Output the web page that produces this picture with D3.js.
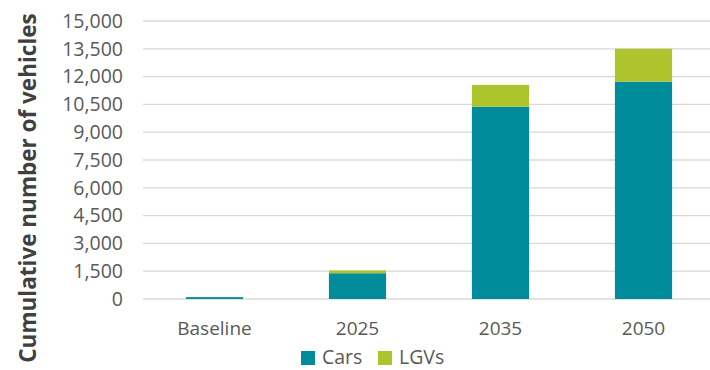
<!DOCTYPE html>
<html>
<head>
<meta charset="utf-8">
<script src="https://cdn.jsdelivr.net/npm/d3@7"></script>
<style>
  html, body { margin: 0; padding: 0; background: #fff; }
  svg { display: block; font-family: "Open Sans", sans-serif; }
</style>
</head>
<body>
<svg id="chart" width="710" height="370"></svg>
<script>
// Cumulative vehicle counts by year, stacked by vehicle type
const categories = ["Baseline", "2025", "2035", "2050"];
const cars = [100, 1390, 10370, 11730];
const lgvs = [0, 150, 1180, 1770];
const seriesNames = ["Cars", "LGVs"];
const yTicks = [0, 1500, 3000, 4500, 6000, 7500, 9000, 10500, 12000, 13500, 15000];

const colors = { Cars: "#008C9B", LGVs: "#ADC42D" };

const rows = categories.map((c, i) => ({ category: c, Cars: cars[i], LGVs: lgvs[i] }));
const stacked = d3.stack().keys(seriesNames)(rows);

const svg = d3.select("#chart");
const margin = { left: 143, right: -5, top: 21, bottom: 71 };
const W = 710, H = 370;

const x = d3.scaleBand()
  .domain(categories)
  .range([margin.left, W - margin.right])
  .paddingInner(0.6)
  .paddingOuter(0.3);

const y = d3.scaleLinear()
  .domain([0, 15000])
  .range([H - margin.bottom, margin.top]);

// Horizontal gridlines
svg.append("g")
  .selectAll("line")
  .data(yTicks)
  .join("line")
  .attr("x1", margin.left)
  .attr("x2", W)
  .attr("y1", d => y(d))
  .attr("y2", d => y(d))
  .attr("stroke", "#d9d9d9")
  .attr("stroke-width", 1.3);

// Y axis labels
const yAxis = d3.axisLeft(y)
  .tickValues(yTicks)
  .tickFormat(d3.format(","))
  .tickSize(0)
  .tickPadding(20);
const gy = svg.append("g")
  .attr("transform", `translate(${margin.left},0)`)
  .call(yAxis);
gy.select(".domain").remove();
gy.selectAll("text")
  .attr("fill", "#595959")
  .style("font-size", "19.5px")
  .style("font-family", "'Open Sans', sans-serif");

// Stacked bars
svg.append("g")
  .selectAll("g")
  .data(stacked)
  .join("g")
  .attr("fill", d => colors[d.key])
  .selectAll("rect")
  .data(d => d)
  .join("rect")
  .attr("x", d => x(d.data.category))
  .attr("width", x.bandwidth())
  .attr("y", d => y(d[1]))
  .attr("height", d => y(d[0]) - y(d[1]));

// X axis labels
const xAxis = d3.axisBottom(x).tickSize(0).tickPadding(23);
const gx = svg.append("g")
  .attr("transform", `translate(0,${y(0)})`)
  .call(xAxis);
gx.select(".domain").remove();
gx.selectAll("text")
  .attr("fill", "#595959")
  .style("font-size", "19px")
  .style("font-family", "'Open Sans', sans-serif");

// Y axis title
svg.append("text")
  .attr("transform", "translate(36,188) rotate(-90)")
  .attr("text-anchor", "middle")
  .attr("fill", "#404040")
  .style("font-size", "22.5px")
  .style("font-weight", "bold")
  .text("Cumulative number of vehicles");

// Legend
const legend = svg.append("g").attr("transform", "translate(301,351)");
const items = legend.selectAll("g")
  .data(seriesNames)
  .join("g")
  .attr("transform", (d, i) => `translate(${i * 77},0)`);
items.append("rect")
  .attr("width", 14)
  .attr("height", 14)
  .attr("fill", d => colors[d]);
items.append("text")
  .attr("x", 21)
  .attr("y", 13)
  .attr("fill", "#595959")
  .style("font-size", "19.5px")
  .text(d => d);
</script>
</body>
</html>
